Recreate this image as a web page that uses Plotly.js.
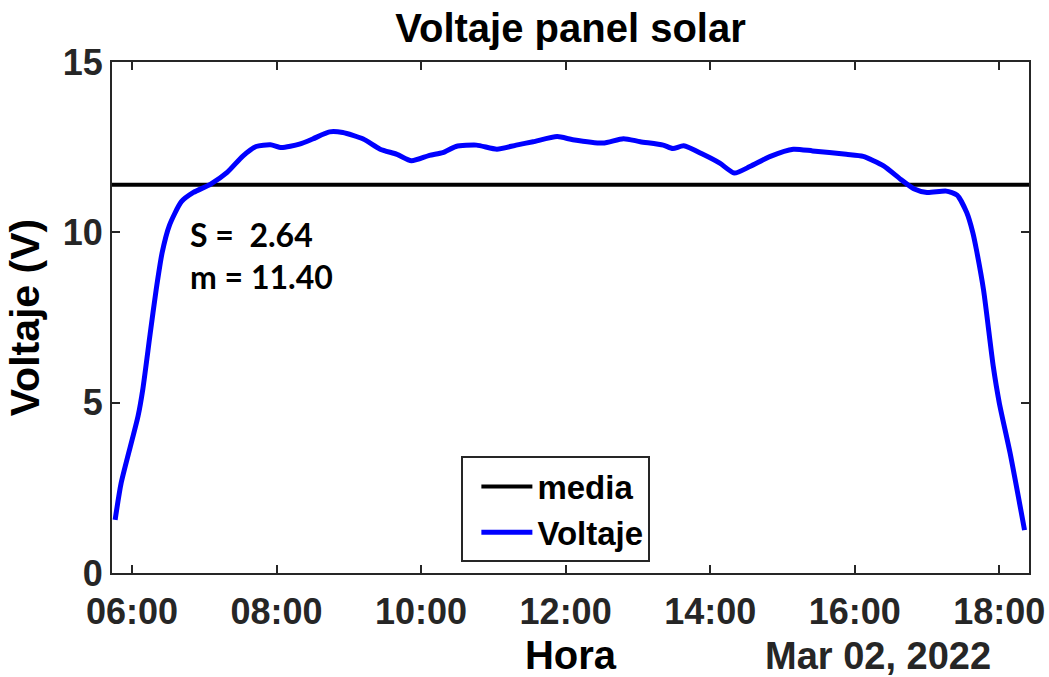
<!DOCTYPE html>
<html><head><meta charset="utf-8">
<script src="https://cdn.plot.ly/plotly-3.0.1.min.js"></script>
<style>html,body{margin:0;padding:0;background:#fff}</style>
</head><body><div id="chart" style="width:1049px;height:677px"></div>
<script>
const fecha = '2022-03-02';
const horas = ['05:46','05:51','06:05','06:09','06:15','06:20','06:25','06:31','06:41','06:51',
  '07:05','07:19','07:32','07:43','07:55','08:04','08:19','08:30','08:44','08:55',
  '09:12','09:26','09:40','09:52','10:07','10:18','10:29','10:46','11:03','11:19',
  '11:33','11:53','12:06','12:31','12:48','13:02','13:21','13:29','13:38','13:54',
  '14:08','14:20','14:33','14:50','15:09','15:25','15:53','16:07','16:24','16:38',
  '16:49','17:00','17:16','17:25','17:33','17:38','17:41','17:47','17:55','18:00',
  '18:09','18:21'];
const voltaje = [1.56,2.64,4.6,5.4,7.0,8.3,9.4,10.2,10.9,11.17,
  11.41,11.76,12.24,12.52,12.57,12.49,12.59,12.74,12.95,12.93,
  12.74,12.44,12.29,12.1,12.26,12.34,12.52,12.56,12.44,12.56,
  12.66,12.81,12.72,12.62,12.75,12.66,12.56,12.46,12.54,12.29,
  12.03,11.74,11.93,12.23,12.44,12.39,12.29,12.23,11.95,11.56,
  11.28,11.17,11.21,11.09,10.58,10.0,9.5,8.3,6.07,5.0,
  3.52,1.26];
const media = 11.40;
const desviacion = 2.64;
const rangoHoras = ['05:43:24','18:24:42'];
const ticksY = [0,5,10,15];

const t = h => fecha + ' ' + h;
const xRange = rangoHoras.map(t);

const axisColor = '#262626';
const fontFam = '"Liberation Sans", Arial, sans-serif';

const traces = [
  {x: xRange, y: [media, media], mode: 'lines', name: 'media',
   line: {color: '#000000', width: 4}},
  {x: horas.map(t), y: voltaje, mode: 'lines', name: 'Voltaje',
   line: {color: '#0000ff', width: 5, shape: 'spline', smoothing: 0.6}}
];

const layout = {
  width: 1049, height: 677,
  margin: {l: 112, r: 20, t: 62, b: 104},
  paper_bgcolor: '#fff', plot_bgcolor: '#fff',
  font: {family: fontFam, color: axisColor},
  title: {text: 'Voltaje panel solar', x: 0.5, xref: 'paper', y: 0.958, yref: 'container', yanchor: 'middle',
          font: {size: 40, weight: 'bold', color: '#000', family: fontFam}},
  xaxis: {
    type: 'date', range: xRange, tick0: t('06:00'), dtick: 7200000, tickformat: '%H:%M',
    showgrid: false, zeroline: false, showline: true, mirror: 'ticks', linecolor: axisColor, linewidth: 2,
    ticks: 'inside', ticklen: 8, tickwidth: 2, tickcolor: axisColor, ticklabelstandoff: 6,
    tickfont: {size: 36, weight: 'bold', color: axisColor, family: fontFam},
    title: {text: 'Hora', standoff: 18, font: {size: 40, weight: 'bold', color: '#000', family: fontFam}}
  },
  yaxis: {
    range: [0, 15], tickvals: ticksY, ticktext: ticksY.map(String),
    showgrid: false, zeroline: false, showline: true, mirror: 'ticks', linecolor: axisColor, linewidth: 2,
    ticks: 'inside', ticklen: 8, tickwidth: 2, tickcolor: axisColor,
    tickfont: {size: 36, weight: 'bold', color: axisColor, family: fontFam},
    title: {text: 'Voltaje (V)', standoff: 10, font: {size: 41, weight: 'bold', color: '#000', family: fontFam}}
  },
  showlegend: true,
  legend: {x: 0.381, y: 0.228, xanchor: 'left', yanchor: 'top', bgcolor: '#fff',
           bordercolor: axisColor, borderwidth: 2, itemwidth: 51, indentation: 13,
           font: {size: 33, weight: 'bold', color: '#000', family: fontFam}},
  annotations: [
    {xref: 'paper', yref: 'paper', x: 0.0829, y: 0.6216, xanchor: 'left', yanchor: 'middle', align: 'left',
     showarrow: false,
     text: 'S =  ' + desviacion.toFixed(2) + '<br>m = ' + media.toFixed(2),
     font: {size: 32, weight: 'bold', color: '#000', family: 'Lato, "Open Sans", sans-serif'}},
    {xref: 'paper', yref: 'paper', x: 0.9607, y: -0.163, xanchor: 'right', yanchor: 'middle',
     showarrow: false, text: 'Mar 02, 2022',
     font: {size: 38, weight: 'bold', color: axisColor, family: fontFam}}
  ]
};

Plotly.newPlot('chart', traces, layout, {displayModeBar: false, staticPlot: true});
</script>
</body></html>
